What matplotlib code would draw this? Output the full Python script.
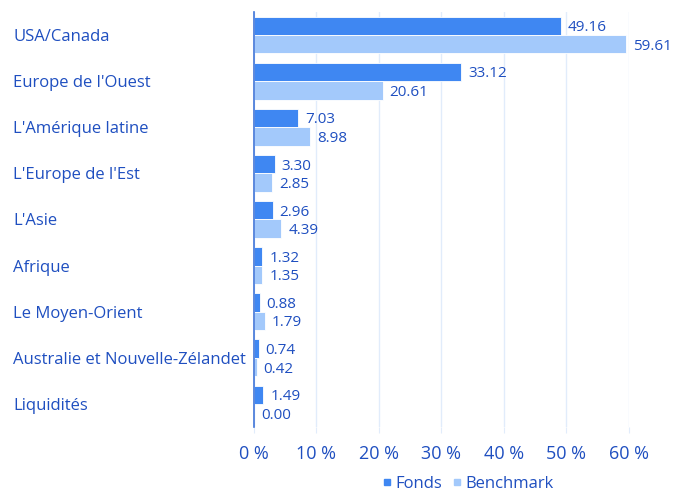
import numpy as np
import matplotlib.pyplot as plt
from matplotlib.transforms import blended_transform_factory

categories = ["USA/Canada", "Europe de l'Ouest", "L'Amérique latine", "L'Europe de l'Est",
              "L'Asie", "Afrique", "Le Moyen-Orient", "Australie et Nouvelle-Zélandet", "Liquidités"]
fonds = [49.16, 33.12, 7.03, 3.30, 2.96, 1.32, 0.88, 0.74, 1.49]
benchmark = [59.61, 20.61, 8.98, 2.85, 4.39, 1.35, 1.79, 0.42, 0.00]
xticks = [0, 10, 20, 30, 40, 50, 60]

c_fonds = '#3f87f2'
c_bench = '#a3c9fb'
c_text = '#1f4fc0'
c_grid = '#e1ecfb'

plt.rcParams['font.family'] = ['Open Sans', 'DejaVu Sans']

fig = plt.figure(figsize=(6.91, 4.96), dpi=100)
ax = fig.add_axes([0.3676, 0.139, 0.5425, 0.837])

y = np.arange(len(categories))
h = 0.4
ax.barh(y - h / 2, fonds, height=h, color=c_fonds, edgecolor='white', linewidth=0.6, zorder=3)
ax.barh(y + h / 2, benchmark, height=h, color=c_bench, edgecolor='white', linewidth=0.6, zorder=3)

for i in range(len(categories)):
    ax.annotate(f"{fonds[i]:.2f}", (fonds[i], y[i] - h / 2), xytext=(5, 0),
                textcoords='offset points', va='center_baseline', ha='left',
                fontsize=11, color=c_text, annotation_clip=False)
    ax.annotate(f"{benchmark[i]:.2f}", (benchmark[i], y[i] + h / 2), xytext=(5, 0),
                textcoords='offset points', va='center_baseline', ha='left',
                fontsize=11, color=c_text, annotation_clip=False)

ax.set_ylim(len(categories) - 0.5, -0.5)
ax.set_xlim(0, 60)
ax.set_xticks(xticks)
ax.set_xticklabels([f"{t} %" for t in xticks], fontsize=13, color=c_text)
ax.tick_params(axis='x', length=4, color=c_grid, pad=9)
ax.set_yticks([])

# category labels left aligned at figure edge
trans = blended_transform_factory(fig.transFigure, ax.transData)
for i, cat in enumerate(categories):
    ax.text(0.019, y[i], cat, transform=trans, ha='left', va='center_baseline',
            fontsize=12, color=c_text)

ax.grid(axis='x', color=c_grid, linewidth=1, zorder=0)
for s in ['top', 'right', 'bottom']:
    ax.spines[s].set_visible(False)
ax.spines['left'].set_color('#3f74d8')
ax.spines['left'].set_linewidth(1.2)
ax.spines['left'].set_zorder(4)

# legend
handles = [plt.Line2D([], [], marker='s', linestyle='', color=c_fonds, markersize=4.5),
           plt.Line2D([], [], marker='s', linestyle='', color=c_bench, markersize=4.5)]
leg = fig.legend(handles, ['Fonds', 'Benchmark'], loc='center', bbox_to_anchor=(0.676, 0.024),
                 ncol=2, frameon=False, fontsize=12, handletextpad=0.1, columnspacing=0.5,
                 handlelength=0.8)
for t in leg.get_texts():
    t.set_color(c_text)

fig.savefig('out.png', dpi=100)
